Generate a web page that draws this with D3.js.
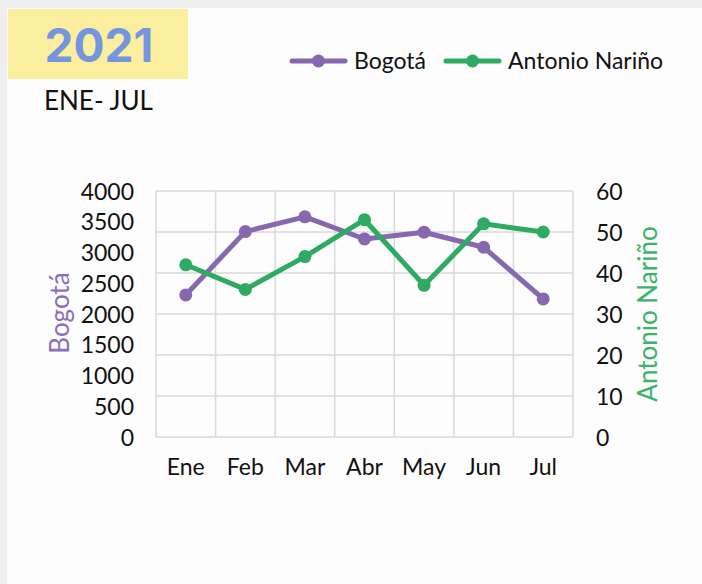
<!DOCTYPE html>
<html>
<head>
<meta charset="utf-8">
<script src="https://cdn.jsdelivr.net/npm/d3@7/dist/d3.min.js"></script>
<style>
html,body{margin:0;padding:0;background:#efefef;}
svg{display:block;}
</style>
</head>
<body>
<svg id="chart" width="702" height="584"></svg>
<script>
const categories = ["Ene","Feb","Mar","Abr","May","Jun","Jul"];
const bogota = [2310, 3340, 3580, 3220, 3330, 3085, 2245];
const antonioNarino = [42, 36, 44, 53, 37, 52, 50];
const leftTicks = [0,500,1000,1500,2000,2500,3000,3500,4000];
const rightTicks = [0,10,20,30,40,50,60];
const seriesNames = ["Bogotá","Antonio Nariño"];

const W = 702, H = 584;
const colPurple = "#8767ae", colGreen = "#2eaa62";
const font = "Lato, 'Open Sans', sans-serif";
const svg = d3.select("#chart");

svg.append("rect").attr("x",7).attr("y",8).attr("width",W-7).attr("height",H-8).attr("fill","#fdfdfd");

// Title box
svg.append("rect").attr("x",8).attr("y",9).attr("width",180).attr("height",70).attr("fill","#fbef9f");
svg.append("text").attr("x",99).attr("y",62).attr("text-anchor","middle")
  .attr("font-family","Inter, 'Open Sans', sans-serif").attr("font-weight",700).attr("font-size",46)
  .attr("fill","#7595de").text("2021");
svg.append("text").attr("x",44).attr("y",110).attr("font-family",font).attr("font-size",26)
  .attr("fill","#111").text("ENE- JUL");

const m = {left:156, right:573, top:191, bottom:437};
const x = d3.scaleBand().domain(categories).range([m.left, m.right]);
const yL = d3.scaleLinear().domain([0,4000]).range([m.bottom, m.top]);
const yR = d3.scaleLinear().domain([0,60]).range([m.bottom, m.top]);

// gridlines
const g = svg.append("g");
g.selectAll("line.h").data(rightTicks).join("line")
  .attr("x1",m.left).attr("x2",m.right).attr("y1",d=>yR(d)).attr("y2",d=>yR(d))
  .attr("stroke","#d9d9d9").attr("stroke-width",1.5);
const vx = categories.map(c=>x(c)).concat([m.right]);
g.selectAll("line.v").data(vx).join("line")
  .attr("x1",d=>d).attr("x2",d=>d).attr("y1",m.top).attr("y2",m.bottom)
  .attr("stroke","#d9d9d9").attr("stroke-width",1.5);

// Left axis
const axL = svg.append("g").attr("transform",`translate(${m.left},0)`)
  .call(d3.axisLeft(yL).tickValues(leftTicks).tickFormat(d3.format("d")).tickSize(0).tickPadding(22));
axL.select(".domain").remove();
axL.selectAll("text").attr("font-family",font).attr("font-size",23).attr("fill","#111").attr("dy","0.35em");

// Right axis
const axR = svg.append("g").attr("transform",`translate(${m.right},0)`)
  .call(d3.axisRight(yR).tickValues(rightTicks).tickSize(0).tickPadding(23));
axR.select(".domain").remove();
axR.selectAll("text").attr("font-family",font).attr("font-size",23).attr("fill","#111").attr("dy","0.35em");

// Bottom axis
const axB = svg.append("g").attr("transform",`translate(0,${m.bottom})`)
  .call(d3.axisBottom(x).tickSize(0).tickPadding(22));
axB.select(".domain").remove();
axB.selectAll("text").attr("font-family",font).attr("font-size",23).attr("fill","#111").attr("dy","0.7em");

// Axis titles
svg.append("text").attr("transform","translate(69,313) rotate(-90)").attr("text-anchor","middle")
  .attr("font-family",font).attr("font-size",26).attr("fill","#8b6fba").text(seriesNames[0]);
svg.append("text").attr("transform","translate(657,314) rotate(-90)").attr("text-anchor","middle")
  .attr("font-family",font).attr("font-size",26).attr("fill","#3cb36b").text(seriesNames[1]);

const cx = c => x(c) + x.bandwidth()/2;
function drawSeries(data, yScale, color){
  svg.append("path").datum(data)
    .attr("fill","none").attr("stroke",color).attr("stroke-width",5).attr("stroke-linejoin","round")
    .attr("d", d3.line().x((d,i)=>cx(categories[i])).y(d=>yScale(d)));
  svg.append("g").selectAll("circle").data(data).join("circle")
    .attr("cx",(d,i)=>cx(categories[i])).attr("cy",d=>yScale(d)).attr("r",6.5).attr("fill",color);
}
drawSeries(bogota, yL, colPurple);
drawSeries(antonioNarino, yR, colGreen);

// Legend
const legend = [{name:seriesNames[0], color:colPurple, x:292},{name:seriesNames[1], color:colGreen, x:446}];
const lg = svg.append("g");
legend.forEach(l=>{
  lg.append("line").attr("x1",l.x).attr("x2",l.x+53).attr("y1",61).attr("y2",61)
    .attr("stroke",l.color).attr("stroke-width",5).attr("stroke-linecap","round");
  lg.append("circle").attr("cx",l.x+26.5).attr("cy",61).attr("r",6.5).attr("fill",l.color);
  lg.append("text").attr("x",l.x+62).attr("y",69).attr("font-family",font).attr("font-size",23)
    .attr("fill","#111").text(l.name);
});
</script>
</body>
</html>
